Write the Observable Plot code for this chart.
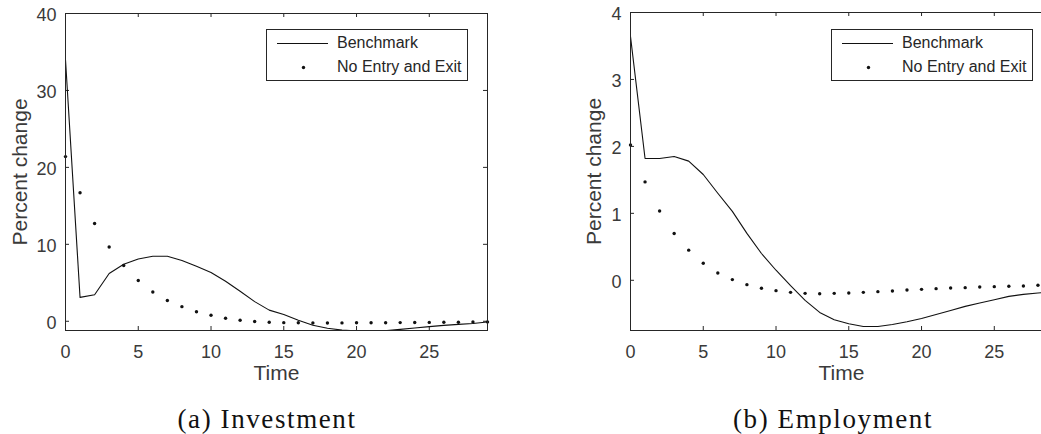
<!DOCTYPE html>
<html>
<head>
<meta charset="utf-8">
<script src="https://cdn.jsdelivr.net/npm/d3@7"></script>
<script src="https://cdn.jsdelivr.net/npm/@observablehq/plot@0.6"></script>
<style>
  html, body { margin: 0; padding: 0; background: #fff; overflow: hidden; }
  #wrap { position: relative; width: 1100px; height: 434px; }
  .panel { position: absolute; top: 0; }
  .legend { position: absolute; top: 29px; width: 200px; height: 50px; border: 1px solid #262626; background: #fff;
            font-family: "Liberation Sans", Arial, sans-serif; font-size: 16px; color: #262626; }
  .legend svg { position: absolute; left: 0; top: 0; }
  .legend .t1, .legend .t2 { position: absolute; left: 70px; line-height: 16px; white-space: nowrap; }
  .legend .t1 { top: 5px; }
  .legend .t2 { top: 29px; }
  .caption { position: absolute; top: 406px; font-family: "Liberation Serif", "Times New Roman", serif; font-size: 27px;
             line-height: 27px; letter-spacing: 1.6px; color: #111; text-align: center; width: 300px; white-space: nowrap; }
</style>
</head>
<body>
<div id="wrap"></div>
<script>
// ---- data ----
const time = d3.range(0, 30); // 0..29

const investBenchmark = [34.0, 3.1, 3.45, 6.2, 7.4, 8.1, 8.45, 8.45, 7.9, 7.15, 6.35, 5.2, 3.9, 2.55, 1.45, 0.88, 0.13, -0.52, -0.9, -1.15, -1.25, -1.28, -1.22, -1.06, -0.88, -0.7, -0.53, -0.4, -0.3, -0.08];
const investNoEntry   = [21.4, 16.7, 12.7, 9.65, 7.24, 5.3, 3.8, 2.7, 1.9, 1.23, 0.79, 0.4, 0.13, -0.04, -0.13, -0.18, -0.2, -0.22, -0.22, -0.21, -0.2, -0.2, -0.19, -0.17, -0.16, -0.15, -0.13, -0.12, -0.1, -0.08];

const employBenchmark = [3.64, 1.82, 1.82, 1.85, 1.78, 1.58, 1.3, 1.03, 0.7, 0.4, 0.15, -0.08, -0.3, -0.48, -0.59, -0.65, -0.69, -0.69, -0.66, -0.62, -0.57, -0.51, -0.45, -0.39, -0.34, -0.29, -0.24, -0.21, -0.19, -0.17];
const employNoEntry   = [2.02, 1.47, 1.035, 0.7, 0.45, 0.255, 0.11, 0.01, -0.065, -0.12, -0.155, -0.18, -0.195, -0.2, -0.195, -0.19, -0.18, -0.17, -0.16, -0.145, -0.135, -0.125, -0.115, -0.11, -0.1, -0.095, -0.09, -0.085, -0.075, -0.07];

const xTicks = [0, 5, 10, 15, 20, 25];
const investYTicks = [0, 10, 20, 30, 40];
const employYTicks = [0, 1, 2, 3, 4];

const seriesNames = ["Benchmark", "No Entry and Exit"];
const captions = ["(a) Investment", "(b) Employment"];
const xLabel = "Time";
const yLabel = "Percent change";

// ---- drawing ----
const INK = "#262626";
const FONT = "Liberation Sans, Arial, sans-serif";

function panel({left, width, marginLeft, marginRight, marginTop, yDomain, yTicks, bench, noEntry, yLabelDx, legendLeft, caption, captionCenter}) {
  const height = 400, marginBottom = 70;
  const plotW = width - marginLeft - marginRight;
  const plotH = height - marginTop - marginBottom;
  const tickLen = 4;
  const benchData = time.map((t, i) => ({t, v: bench[i]}));
  const dotData = time.map((t, i) => ({t, v: noEntry[i]}));
  const chart = Plot.plot({
    width, height, marginLeft, marginRight, marginTop, marginBottom,
    style: {fontFamily: FONT, fontSize: "18px", color: INK, background: "#fff", maxWidth: "none"},
    x: {domain: [0, 29]},
    y: {domain: yDomain},
    marks: [
      Plot.axisX(xTicks, {tickSize: 0, tickPadding: 15, fontSize: 18, fill: "#3a3a3a", label: null, tickFormat: d => String(d)}),
      Plot.axisY(yTicks, {tickSize: 0, tickPadding: 9, fontSize: 18, fill: "#3a3a3a", dy: 2, label: null, tickFormat: d => String(d)}),
      // inward ticks on all four sides
      Plot.tickX(xTicks, {x: d => d, insetTop: plotH - tickLen, stroke: INK}),
      Plot.tickX(xTicks, {x: d => d, insetBottom: plotH - tickLen, stroke: INK}),
      Plot.tickY(yTicks, {y: d => d, insetRight: plotW - tickLen, stroke: INK}),
      Plot.tickY(yTicks, {y: d => d, insetLeft: plotW - tickLen, stroke: INK}),
      Plot.line(benchData, {x: "t", y: "v", stroke: "#111", strokeWidth: 1.1, clip: true}),
      Plot.dot(dotData, {x: "t", y: "v", r: 1.7, fill: "#111", stroke: "none"}),
      Plot.frame({stroke: INK, strokeWidth: 1}),
      Plot.text([xLabel], {frameAnchor: "bottom", dy: 49, fontSize: 21, fill: "#3a3a3a", fontFamily: FONT}),
      Plot.text([yLabel], {frameAnchor: "left", textAnchor: "middle", dx: yLabelDx, rotate: -90, fontSize: 21, fill: "#3a3a3a", fontFamily: FONT})
    ]
  });
  const div = document.createElement("div");
  div.className = "panel";
  div.style.left = left + "px";
  div.style.width = width + "px";
  div.appendChild(chart);
  document.getElementById("wrap").appendChild(div);

  // legend
  const lg = document.createElement("div");
  lg.className = "legend";
  lg.style.left = legendLeft + "px";
  lg.innerHTML = `<svg width="200" height="50">
      <line x1="10" x2="61" y1="13.5" y2="13.5" stroke="#111" stroke-width="1.1"/>
      <circle cx="36.5" cy="37.5" r="1.7" fill="#111"/>
    </svg>
    <div class="t1">${seriesNames[0]}</div>
    <div class="t2">${seriesNames[1]}</div>`;
  document.getElementById("wrap").appendChild(lg);

  const cap = document.createElement("div");
  cap.className = "caption";
  cap.style.left = (captionCenter - 150) + "px";
  cap.textContent = caption;
  document.getElementById("wrap").appendChild(cap);
}

panel({left: 0, width: 520, marginLeft: 65, marginRight: 33, marginTop: 13,
       yDomain: [-1.2, 40], yTicks: investYTicks, bench: investBenchmark, noEntry: investNoEntry,
       yLabelDx: -45, legendLeft: 266, caption: captions[0], captionCenter: 267});
panel({left: 540, width: 540, marginLeft: 90, marginRight: 28, marginTop: 12,
       yDomain: [-0.75, 4.0], yTicks: employYTicks, bench: employBenchmark, noEntry: employNoEntry,
       yLabelDx: -36, legendLeft: 831, caption: captions[1], captionCenter: 833});
</script>
</body>
</html>
